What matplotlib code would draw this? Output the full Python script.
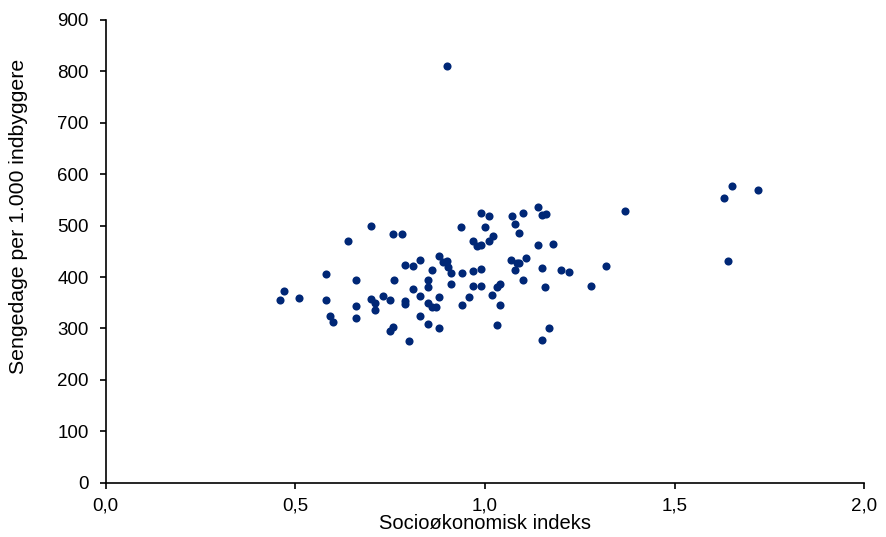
import matplotlib
matplotlib.use("Agg")
import matplotlib.pyplot as plt
from matplotlib.ticker import FuncFormatter, MultipleLocator

# Socioøkonomisk indeks (x) og sengedage per 1.000 indbyggere (y)
indeks = [
    0.900, 0.700, 0.758, 0.780, 0.640, 0.789, 0.811, 0.829, 0.880, 0.888,
    0.901, 0.903, 0.910, 0.580, 0.660, 0.759, 0.849, 0.850, 0.910, 0.470,
    0.460, 0.510, 0.580, 0.810, 0.829, 0.880, 0.699, 0.710, 0.730, 0.750,
    0.790, 0.790, 0.849, 0.860, 0.871, 0.660, 0.710, 0.590, 0.600, 0.660,
    0.829, 0.850, 0.880, 0.758, 0.750, 0.800, 0.938, 0.940, 0.940, 0.989,
    1.011, 1.070, 1.100, 1.140, 1.149, 1.161, 1.370, 0.999, 1.080, 1.090,
    0.969, 0.980, 0.990, 1.011, 1.020, 1.140, 1.180, 0.969, 0.990, 0.969,
    0.990, 1.069, 1.084, 1.090, 1.080, 1.109, 1.149, 1.200, 1.221, 1.319,
    1.100, 1.159, 1.279, 0.959, 1.019, 1.031, 1.040, 1.040, 1.031, 1.169,
    1.149, 1.650, 1.630, 1.720, 1.640, 0.859,
]
sengedage = [
    810, 499, 484, 484, 470, 424, 421, 434, 441, 430,
    431, 420, 408, 405, 394, 394, 394, 381, 387, 373,
    356, 359, 355, 376, 364, 361, 357, 350, 364, 355,
    353, 348, 349, 342, 342, 343, 336, 324, 313, 321,
    325, 308, 300, 303, 295, 276, 497, 408, 346, 524,
    518, 519, 524, 536, 521, 522, 528, 498, 503, 486,
    471, 460, 462, 471, 480, 462, 464, 412, 416, 383,
    383, 434, 427, 428, 414, 438, 418, 414, 409, 421,
    394, 381, 383, 361, 366, 381, 387, 346, 307, 300,
    278, 577, 554, 569, 431, 414,
]

plt.rcParams['font.family'] = ['Liberation Sans', 'DejaVu Sans']

fig = plt.figure(figsize=(8.87, 5.37), dpi=100)
ax = fig.add_axes([0.1192, 0.1011, 0.8552, 0.8617])

ax.scatter(indeks, sengedage, s=34, color='#002776', linewidths=0, zorder=3)

ax.set_xlim(0, 2.0)
ax.set_ylim(0, 900)
ax.xaxis.set_major_locator(MultipleLocator(0.5))
ax.yaxis.set_major_locator(MultipleLocator(100))
ax.xaxis.set_major_formatter(FuncFormatter(lambda v, p: f"{v:.1f}".replace('.', ',')))

for side in ['top', 'right']:
    ax.spines[side].set_visible(False)
for side in ['left', 'bottom']:
    ax.spines[side].set_linewidth(1.2)
ax.tick_params(direction='out', length=4.3, width=1.2, labelsize=13.5, colors='black')
ax.tick_params(axis='x', pad=6)
ax.tick_params(axis='y', pad=8)

ax.set_xlabel('Socioøkonomisk indeks', fontsize=14.5, labelpad=0)
ax.set_ylabel('Sengedage per 1.000 indbyggere', fontsize=15.3, labelpad=0)
ax.yaxis.set_label_coords(-0.1024, 0.575)
ax.xaxis.set_label_coords(0.5, -0.067)

fig.savefig('out.png', dpi=100)
